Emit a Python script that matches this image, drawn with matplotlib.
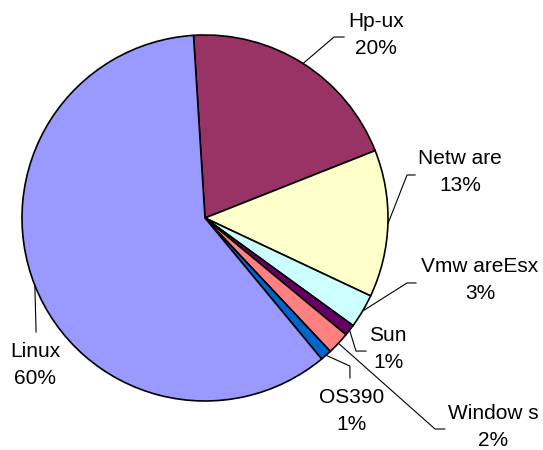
import numpy as np
import matplotlib
matplotlib.use('Agg')
import matplotlib.pyplot as plt

# data: share of servers per operating system (%), clockwise from the top
systems = ['Hp-ux', 'Netw are', 'Vmw areEsx', 'Sun', 'Window s', 'OS390', 'Linux']
shares = [20, 13, 3, 1, 2, 1, 60]
colors = ['#993366', '#FFFFCC', '#CCFFFF', '#660066', '#FF8080', '#0066CC', '#9999FF']

START = 93.6

# label layout (data units, pie radius = 1): text centre, leader elbow, leader end
label_pos = [(0.934, 1.0), (1.393, 0.251), (1.503, -0.339), (1.0, -0.716),
             (1.574, -1.142), (0.803, -1.055), (-0.929, -0.803)]
elbows = [(0.705, 0.989), (1.104, 0.235), (1.104, -0.355), (0.825, -0.727),
          (1.257, -1.153), (0.792, -0.809), (-0.923, -0.623)]
ends = [(0.760, 0.989), (1.148, 0.235), (1.153, -0.355), (0.880, -0.727),
        (1.311, -1.153), (0.792, -0.874), (-0.923, -0.623)]

plt.rcParams['font.family'] = ['Liberation Sans', 'DejaVu Sans']

fig = plt.figure(figsize=(5.43, 4.5), dpi=100)
ax = fig.add_axes([22 / 543, 49 / 450, 366 / 543, 366 / 450])

wedges, _ = ax.pie(shares, colors=colors, startangle=START, counterclock=False,
                   radius=1.0, wedgeprops=dict(edgecolor='black', linewidth=1.2))

total = float(sum(shares))
angle = START
for i, (name, val) in enumerate(zip(systems, shares)):
    span = val / total * 360.0
    mid = np.deg2rad(angle - span / 2.0)
    angle -= span
    sx, sy = np.cos(mid), np.sin(mid)
    xs = [sx, elbows[i][0], ends[i][0]]
    ys = [sy, elbows[i][1], ends[i][1]]
    ax.plot(xs, ys, color='black', linewidth=0.8, clip_on=False)
    ax.text(label_pos[i][0], label_pos[i][1], f'{name}\n{val}%', ha='center', va='center',
            multialignment='center', fontsize=15, linespacing=1.55, color='black')

ax.set_xlim(-1, 1)
ax.set_ylim(-1, 1)
ax.set_aspect('equal')
ax.axis('off')

fig.savefig('out.png', dpi=100, facecolor='white')
